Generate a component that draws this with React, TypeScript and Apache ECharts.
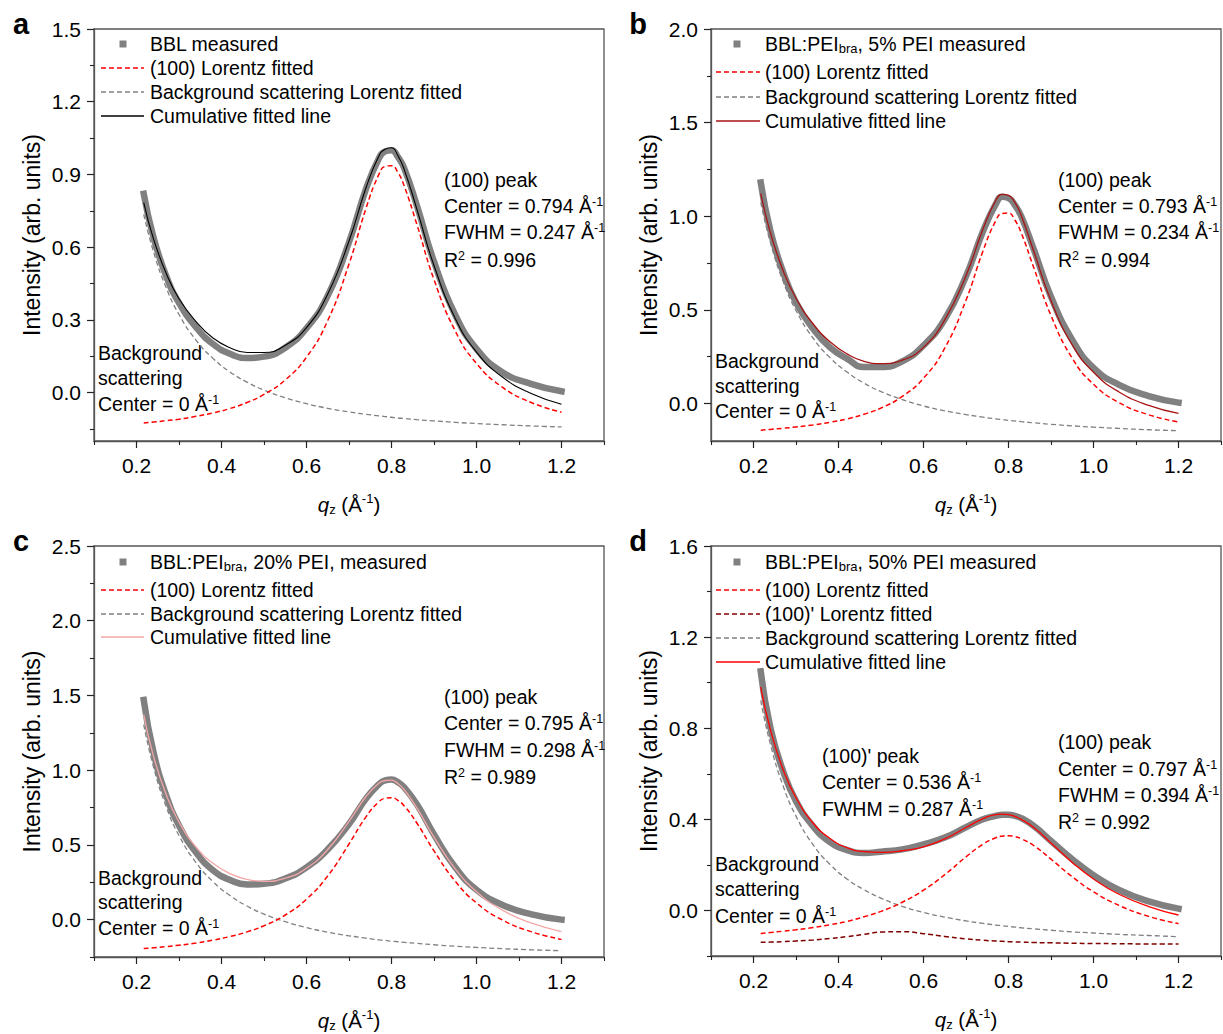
import React, { useEffect, useRef } from "react";
import * as echarts from "echarts";

const FONT = '"Liberation Sans", Arial, Helvetica, sans-serif';

// shared q_z sampling (Å^-1)
const qValues = [0.217, 0.24, 0.27, 0.3, 0.34, 0.38, 0.42, 0.46, 0.5, 0.55, 0.6, 0.65, 0.7, 0.74, 0.77, 0.785, 0.8, 0.815, 0.83, 0.86, 0.9, 0.95, 1.0, 1.06, 1.13, 1.2];

// panel a: BBL
const aMeasured = [0.82, 0.64, 0.48, 0.37, 0.27, 0.2, 0.16, 0.142, 0.148, 0.185, 0.265, 0.4, 0.62, 0.84, 0.965, 0.995, 1.0, 0.972, 0.925, 0.77, 0.54, 0.32, 0.18, 0.085, 0.035, 0.005];
const aPeak = [-0.126, -0.122, -0.116, -0.11, -0.098, -0.084, -0.066, -0.041, -0.008, 0.052, 0.146, 0.297, 0.53, 0.76, 0.899, 0.933, 0.936, 0.908, 0.852, 0.692, 0.466, 0.254, 0.12, 0.023, -0.042, -0.081];
const aBackground = [0.735, 0.581, 0.432, 0.322, 0.216, 0.141, 0.085, 0.043, 0.01, -0.022, -0.046, -0.065, -0.08, -0.09, -0.096, -0.099, -0.102, -0.105, -0.107, -0.112, -0.117, -0.123, -0.128, -0.133, -0.138, -0.142];
const aCumulative = [0.784, 0.634, 0.491, 0.387, 0.293, 0.225, 0.185, 0.165, 0.165, 0.195, 0.268, 0.407, 0.625, 0.845, 0.975, 1.004, 1.01, 0.978, 0.92, 0.755, 0.524, 0.306, 0.167, 0.065, -0.005, -0.048];

// panel b: 5% PEI
const bMeasured = [1.18, 0.92, 0.7, 0.54, 0.4, 0.3, 0.24, 0.195, 0.195, 0.225, 0.31, 0.45, 0.68, 0.92, 1.065, 1.104, 1.097, 1.06, 1.0, 0.82, 0.57, 0.34, 0.19, 0.1, 0.04, 0.005];
const bPeak = [-0.142, -0.138, -0.132, -0.125, -0.114, -0.1, -0.082, -0.057, -0.024, 0.038, 0.135, 0.296, 0.552, 0.815, 0.976, 1.015, 1.017, 0.98, 0.911, 0.722, 0.47, 0.242, 0.103, 0.005, -0.06, -0.098];
const bBackground = [1.074, 0.858, 0.65, 0.497, 0.35, 0.245, 0.168, 0.109, 0.064, 0.021, -0.013, -0.039, -0.059, -0.073, -0.082, -0.086, -0.09, -0.093, -0.097, -0.103, -0.111, -0.119, -0.126, -0.133, -0.14, -0.145];
const bCumulative = [1.122, 0.91, 0.708, 0.562, 0.426, 0.33, 0.265, 0.225, 0.213, 0.232, 0.3, 0.447, 0.683, 0.932, 1.084, 1.117, 1.112, 1.074, 1.004, 0.809, 0.549, 0.313, 0.167, 0.062, -0.01, -0.053];

// panel c: 20% PEI
const cMeasured = [1.47, 1.12, 0.83, 0.63, 0.45, 0.33, 0.265, 0.235, 0.24, 0.275, 0.35, 0.47, 0.64, 0.81, 0.905, 0.932, 0.937, 0.92, 0.885, 0.77, 0.57, 0.35, 0.2, 0.1, 0.035, 0.0];
const cPeak = [-0.193, -0.188, -0.18, -0.171, -0.156, -0.137, -0.113, -0.082, -0.041, 0.031, 0.137, 0.293, 0.506, 0.688, 0.788, 0.812, 0.816, 0.798, 0.761, 0.645, 0.46, 0.257, 0.112, -0.001, -0.082, -0.132];
const cBackground = [1.305, 1.022, 0.755, 0.563, 0.382, 0.254, 0.161, 0.091, 0.037, -0.014, -0.053, -0.084, -0.108, -0.124, -0.135, -0.139, -0.144, -0.148, -0.152, -0.159, -0.168, -0.178, -0.186, -0.194, -0.202, -0.208];
const cCumulative = [1.372, 1.094, 0.835, 0.653, 0.486, 0.377, 0.308, 0.269, 0.256, 0.277, 0.344, 0.469, 0.658, 0.824, 0.913, 0.931, 0.933, 0.91, 0.869, 0.746, 0.552, 0.34, 0.187, 0.065, -0.024, -0.08];

// panel d: 50% PEI
const dMeasured = [1.05, 0.8, 0.61, 0.48, 0.37, 0.3, 0.265, 0.252, 0.258, 0.268, 0.29, 0.32, 0.365, 0.4, 0.415, 0.42, 0.42, 0.415, 0.405, 0.37, 0.305, 0.225, 0.155, 0.09, 0.04, 0.008];
const dPeak = [-0.101, -0.097, -0.091, -0.085, -0.075, -0.063, -0.048, -0.028, -0.004, 0.036, 0.089, 0.157, 0.235, 0.291, 0.319, 0.326, 0.328, 0.324, 0.315, 0.284, 0.225, 0.148, 0.082, 0.022, -0.026, -0.058];
const dPeakPrime = [-0.14, -0.139, -0.137, -0.134, -0.13, -0.123, -0.115, -0.105, -0.095, -0.093, -0.102, -0.114, -0.125, -0.131, -0.134, -0.1355, -0.137, -0.138, -0.139, -0.141, -0.142, -0.144, -0.145, -0.146, -0.147, -0.147];
const dBackground = [0.922, 0.728, 0.545, 0.414, 0.289, 0.202, 0.138, 0.091, 0.054, 0.018, -0.009, -0.029, -0.046, -0.057, -0.064, -0.067, -0.07, -0.073, -0.076, -0.081, -0.087, -0.094, -0.099, -0.105, -0.11, -0.115];
const dCumulative = [0.981, 0.792, 0.617, 0.495, 0.384, 0.316, 0.276, 0.258, 0.255, 0.262, 0.279, 0.314, 0.364, 0.403, 0.421, 0.423, 0.421, 0.413, 0.4, 0.363, 0.296, 0.211, 0.138, 0.071, 0.017, -0.02];

// axis ticks
const xMajor = [0.2, 0.4, 0.6, 0.8, 1.0, 1.2];
const xMinor = [0.1, 0.3, 0.5, 0.7, 0.9, 1.1, 1.3];
const aYMajor = [0, 0.3, 0.6, 0.9, 1.2, 1.5];
const aYMinor = [-0.15, 0.15, 0.45, 0.75, 1.05, 1.35];
const bYMajor = [0, 0.5, 1.0, 1.5, 2.0];
const bYMinor = [0.25, 0.75, 1.25, 1.75];
const cYMajor = [0, 0.5, 1.0, 1.5, 2.0, 2.5];
const cYMinor = [-0.25, 0.25, 0.75, 1.25, 1.75, 2.25];
const dYMajor = [0, 0.4, 0.8, 1.2, 1.6];
const dYMinor = [-0.2, 0.2, 0.6, 1.0, 1.4];

const GRAY = "#808080";
const RED = "#ff0000";
const DARKRED = "#800000";
const AXIS = "#555555";
const TXT = 19.5;

type Curve = { values: number[]; color: string; width: number; dashed: boolean; band?: boolean };

const panels = [
  {
    letter: "a",
    rect: { left: 94, top: 29, width: 510, height: 412 },
    ymin: -0.2, ymax: 1.5, yMajor: aYMajor, yMinor: aYMinor,
    curves: [
      { values: aMeasured, color: GRAY, width: 6.5, dashed: false, band: true },
      { values: aBackground, color: GRAY, width: 1.3, dashed: true },
      { values: aPeak, color: RED, width: 1.5, dashed: true },
      { values: aCumulative, color: "#000000", width: 1.1, dashed: false },
    ] as Curve[],
    legend: [
      { kind: "square", color: GRAY, text: "{n|BBL measured}" },
      { kind: "dash", color: RED, text: "{n|(100) Lorentz fitted}" },
      { kind: "dash", color: GRAY, text: "{n|Background scattering Lorentz fitted}" },
      { kind: "line", color: "#000000", text: "{n|Cumulative fitted line}" },
    ],
    legendRows: [44, 68, 92, 116],
    legendX: { sample0: 101, sample1: 144, marker: 123, text: 150 },
    notes: [
      { x: 444, ys: [180, 206, 232, 260], lines: ["{n|(100) peak}", "{n|Center = 0.794 Å}{sup|-1}", "{n|FWHM = 0.247 Å}{sup|-1}", "{n|R}{sup|2}{n| = 0.996}"] },
      { x: 98, ys: [353, 378, 404], lines: ["{n|Background}", "{n|scattering}", "{n|Center = 0 Å}{sup|-1}"] },
    ],
    letterPos: { x: 21, y: 24 },
  },
  {
    letter: "b",
    rect: { left: 711, top: 29, width: 510, height: 412 },
    ymin: -0.2, ymax: 2.0, yMajor: bYMajor, yMinor: bYMinor,
    curves: [
      { values: bMeasured, color: GRAY, width: 6.5, dashed: false, band: true },
      { values: bBackground, color: GRAY, width: 1.3, dashed: true },
      { values: bPeak, color: RED, width: 1.5, dashed: true },
      { values: bCumulative, color: "#a81414", width: 1.3, dashed: false },
    ] as Curve[],
    legend: [
      { kind: "square", color: GRAY, text: "{n|BBL:PEI}{sub|bra}{n|, 5% PEI measured}" },
      { kind: "dash", color: RED, text: "{n|(100) Lorentz fitted}" },
      { kind: "dash", color: GRAY, text: "{n|Background scattering Lorentz fitted}" },
      { kind: "line", color: "#a81414", text: "{n|Cumulative fitted line}" },
    ],
    legendRows: [44, 72, 97, 121],
    legendX: { sample0: 716, sample1: 760, marker: 737, text: 765 },
    notes: [
      { x: 1058, ys: [180, 206, 232, 260], lines: ["{n|(100) peak}", "{n|Center = 0.793 Å}{sup|-1}", "{n|FWHM = 0.234 Å}{sup|-1}", "{n|R}{sup|2}{n| = 0.994}"] },
      { x: 715, ys: [361, 386, 411], lines: ["{n|Background}", "{n|scattering}", "{n|Center = 0 Å}{sup|-1}"] },
    ],
    letterPos: { x: 638, y: 24 },
  },
  {
    letter: "c",
    rect: { left: 94, top: 546, width: 510, height: 411 },
    ymin: -0.25, ymax: 2.5, yMajor: cYMajor, yMinor: cYMinor,
    curves: [
      { values: cMeasured, color: GRAY, width: 6.5, dashed: false, band: true },
      { values: cBackground, color: GRAY, width: 1.3, dashed: true },
      { values: cPeak, color: RED, width: 1.5, dashed: true },
      { values: cCumulative, color: "#f4a7a7", width: 1.3, dashed: false },
    ] as Curve[],
    legend: [
      { kind: "square", color: GRAY, text: "{n|BBL:PEI}{sub|bra}{n|, 20% PEI, measured}" },
      { kind: "dash", color: RED, text: "{n|(100) Lorentz fitted}" },
      { kind: "dash", color: GRAY, text: "{n|Background scattering Lorentz fitted}" },
      { kind: "line", color: "#f4a7a7", text: "{n|Cumulative fitted line}" },
    ],
    legendRows: [562, 590, 614, 637],
    legendX: { sample0: 101, sample1: 144, marker: 123, text: 150 },
    notes: [
      { x: 444, ys: [697, 723, 750, 777], lines: ["{n|(100) peak}", "{n|Center = 0.795 Å}{sup|-1}", "{n|FWHM = 0.298 Å}{sup|-1}", "{n|R}{sup|2}{n| = 0.989}"] },
      { x: 98, ys: [878, 902, 928], lines: ["{n|Background}", "{n|scattering}", "{n|Center = 0 Å}{sup|-1}"] },
    ],
    letterPos: { x: 21, y: 541 },
  },
  {
    letter: "d",
    rect: { left: 711, top: 546, width: 510, height: 410 },
    ymin: -0.2, ymax: 1.6, yMajor: dYMajor, yMinor: dYMinor,
    curves: [
      { values: dMeasured, color: GRAY, width: 6.5, dashed: false, band: true },
      { values: dBackground, color: GRAY, width: 1.3, dashed: true },
      { values: dPeakPrime, color: DARKRED, width: 1.5, dashed: true },
      { values: dPeak, color: RED, width: 1.5, dashed: true },
      { values: dCumulative, color: RED, width: 1.3, dashed: false },
    ] as Curve[],
    legend: [
      { kind: "square", color: GRAY, text: "{n|BBL:PEI}{sub|bra}{n|, 50% PEI measured}" },
      { kind: "dash", color: RED, text: "{n|(100) Lorentz fitted}" },
      { kind: "dash", color: DARKRED, text: "{n|(100)' Lorentz fitted}" },
      { kind: "dash", color: GRAY, text: "{n|Background scattering Lorentz fitted}" },
      { kind: "line", color: RED, text: "{n|Cumulative fitted line}" },
    ],
    legendRows: [562, 590, 614, 638, 662],
    legendX: { sample0: 716, sample1: 760, marker: 737, text: 765 },
    notes: [
      { x: 822, ys: [756, 782, 809], lines: ["{n|(100)' peak}", "{n|Center = 0.536 Å}{sup|-1}", "{n|FWHM = 0.287 Å}{sup|-1}"] },
      { x: 1058, ys: [742, 769, 795, 822], lines: ["{n|(100) peak}", "{n|Center = 0.797 Å}{sup|-1}", "{n|FWHM = 0.394 Å}{sup|-1}", "{n|R}{sup|2}{n| = 0.992}"] },
      { x: 715, ys: [864, 889, 916], lines: ["{n|Background}", "{n|scattering}", "{n|Center = 0 Å}{sup|-1}"] },
    ],
    letterPos: { x: 638, y: 541 },
  },
];

const richText = {
  n: { fontSize: TXT, fontFamily: FONT, color: "#000", lineHeight: 22 },
  sup: { fontSize: 12.5, fontFamily: FONT, color: "#000", lineHeight: 10, verticalAlign: "top" },
  sub: { fontSize: 13, fontFamily: FONT, color: "#000", lineHeight: 8, verticalAlign: "bottom" },
};

function fmt(v: number) {
  return v.toFixed(1);
}

function buildOption() {
  const grid: any[] = [];
  const xAxis: any[] = [];
  const yAxis: any[] = [];
  const series: any[] = [];
  const graphic: any[] = [];

  panels.forEach((p, i) => {
    grid.push({ ...p.rect, show: true, borderColor: AXIS, borderWidth: 1.3, backgroundColor: "transparent", containLabel: false });
    xAxis.push({
      gridIndex: i, type: "value", min: 0.1, max: 1.3,
      axisLine: { show: true, onZero: false, lineStyle: { color: AXIS, width: 1.3 } },
      axisTick: { show: true, inside: false, length: 7, customValues: xMajor, lineStyle: { color: "#222", width: 1.2 } },
      axisLabel: { customValues: xMajor, formatter: fmt, fontSize: 21, fontFamily: FONT, color: "#000", margin: 14 },
      splitLine: { show: false },
      name: "{i|q}{sub|z}{t| (Å}{sup|-1}{t|)}",
      nameLocation: "middle", nameGap: 51,
      nameTextStyle: {
        fontSize: 20, fontFamily: FONT, color: "#000",
        rich: {
          i: { fontSize: 20.5, fontStyle: "italic", fontFamily: FONT, color: "#000", lineHeight: 24 },
          t: { fontSize: 20.5, fontFamily: FONT, color: "#000", lineHeight: 24 },
          sub: { fontSize: 13, fontFamily: FONT, color: "#000", lineHeight: 8, verticalAlign: "bottom" },
          sup: { fontSize: 13, fontFamily: FONT, color: "#000", lineHeight: 10, verticalAlign: "top" },
        },
      },
    });
    yAxis.push({
      gridIndex: i, type: "value", min: p.ymin, max: p.ymax,
      axisLine: { show: true, onZero: false, lineStyle: { color: AXIS, width: 1.3 } },
      axisTick: { show: true, inside: false, length: 7, customValues: p.yMajor, lineStyle: { color: "#222", width: 1.2 } },
      axisLabel: { customValues: p.yMajor, formatter: fmt, fontSize: 21, fontFamily: FONT, color: "#000", margin: 13 },
      splitLine: { show: false },
      name: "Intensity (arb. units)",
      nameLocation: "middle", nameGap: 51,
      nameTextStyle: { fontSize: 23, fontFamily: FONT, color: "#000" },
    });
  });
  // auxiliary grids for minor ticks
  panels.forEach((p, i) => {
    grid.push({ ...p.rect, show: false, containLabel: false });
    xAxis.push({
      gridIndex: 4 + i, type: "value", min: 0.1, max: 1.3, position: "bottom",
      axisLine: { show: false, onZero: false }, axisLabel: { show: false }, splitLine: { show: false },
      axisTick: { show: true, inside: false, length: 4, customValues: xMinor, lineStyle: { color: "#222", width: 1.1 } },
    });
    yAxis.push({
      gridIndex: 4 + i, type: "value", min: p.ymin, max: p.ymax, position: "left",
      axisLine: { show: false, onZero: false }, axisLabel: { show: false }, splitLine: { show: false },
      axisTick: { show: true, inside: false, length: 4, customValues: p.yMinor, lineStyle: { color: "#222", width: 1.1 } },
    });
  });

  panels.forEach((p, i) => {
    p.curves.forEach((c, k) => {
      series.push({
        type: "line",
        xAxisIndex: i, yAxisIndex: i,
        data: qValues.map((q, j) => [q, c.values[j]]),
        symbol: "none", showSymbol: false,
        smooth: 0.5,
        silent: true,
        z: 2 + k,
        lineStyle: {
          color: c.color, width: c.width,
          type: c.dashed ? [5, 3] : "solid",
          cap: c.band ? "square" : "butt",
        },
      });
    });

    // legend
    p.legend.forEach((e, r) => {
      const y = p.legendRows[r];
      if (e.kind === "square") {
        graphic.push({ type: "rect", shape: { x: p.legendX.marker - 3.5, y: y - 3.5, width: 7, height: 7 }, style: { fill: e.color }, silent: true });
      } else {
        graphic.push({
          type: "line",
          shape: { x1: p.legendX.sample0, y1: y, x2: p.legendX.sample1, y2: y },
          style: { stroke: e.color, lineWidth: e.kind === "dash" ? 1.5 : 1.3, lineDash: e.kind === "dash" ? [5, 3] : null },
          silent: true,
        });
      }
      graphic.push({
        type: "text", x: p.legendX.text, y,
        style: { text: e.text, rich: richText, align: "left", verticalAlign: "middle", fill: "#000", font: `${TXT}px ${FONT}` },
        silent: true,
      });
    });

    // annotations
    p.notes.forEach((nt) => {
      nt.lines.forEach((ln, r) => {
        graphic.push({
          type: "text", x: nt.x, y: nt.ys[r],
          style: { text: ln, rich: richText, align: "left", verticalAlign: "middle", fill: "#000", font: `${TXT}px ${FONT}` },
          silent: true,
        });
      });
    });

    graphic.push({
      type: "text", x: p.letterPos.x, y: p.letterPos.y,
      style: { text: p.letter, align: "center", verticalAlign: "middle", fill: "#000", font: `bold 29px ${FONT}` },
      silent: true,
    });
  });

  return {
    animation: false,
    backgroundColor: "#ffffff",
    textStyle: { fontFamily: FONT },
    grid, xAxis, yAxis, series, graphic,
  };
}

export default function App() {
  const ref = useRef<HTMLDivElement>(null);
  useEffect(() => {
    document.body.style.margin = "0";
    if (!ref.current) return;
    const chart = echarts.init(ref.current, undefined, { renderer: "svg" });
    chart.setOption(buildOption() as any);
    return () => chart.dispose();
  }, []);
  return <div ref={ref} style={{ width: 1223, height: 1034 }} />;
}
